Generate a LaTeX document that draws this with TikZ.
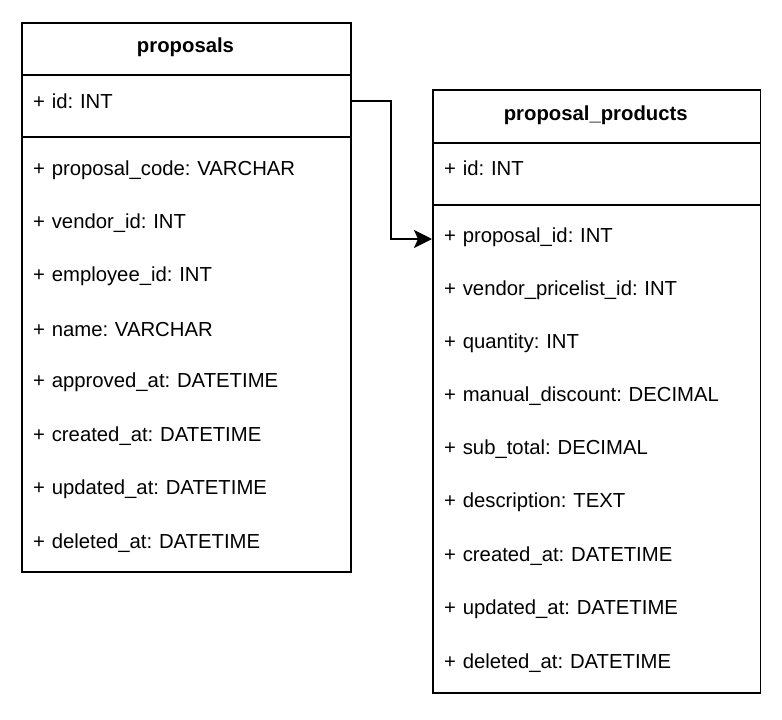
\documentclass[tikz,border=0pt]{standalone}
\usepackage{fontspec}
\setmainfont{Liberation Sans}
\frenchspacing
\usetikzlibrary{arrows.meta}
\tikzset{
  tbl/.style={draw=black, line width=1.9pt, fill=white, inner sep=0pt, anchor=north west},
  hdr/.style={font=\fontsize{20.3}{24}\selectfont\bfseries, text=black},
  lrow/.style={anchor=west, inner xsep=12pt, inner ysep=0pt, text width=305pt, align=left, font=\fontsize{20.3}{24}\selectfont\frenchspacing, text=black},
  rrow/.style={lrow, text width=303.5pt},
  link/.style={draw=black, line width=1.9pt, -{Stealth[length=18pt, width=18pt, inset=4pt]}}
}
\begin{document}
\begin{tikzpicture}[x=1pt, y=-1pt]
\useasboundingbox (0,0) rectangle (782,720);
% left table: proposals
\node[tbl, minimum width=329pt, minimum height=549pt] (lbox) at (21,21.7) {};
\node[tbl, minimum width=329pt, minimum height=52.6pt] (lhead) at (21,21.7) {};
\node[tbl, minimum width=329pt, minimum height=61.7pt] (lidsec) at (21,74.3) {};
\node[hdr] (ltitle) at (185.5,47.5) {proposals};
\node[lrow] (lid) at (21,101) {+ id: INT};
\node[lrow] (l1) at (21,170.5) {+ proposal\_code: VARCHAR};
\node[lrow] (l2) at (21,223.5) {+ vendor\_id: INT};
\node[lrow] (l3) at (21,276.5) {+ employee\_id: INT};
\node[lrow] (l4) at (21,329.5) {+ name: VARCHAR};
\node[lrow] (l5) at (21,382.5) {+ approved\_at: DATETIME};
\node[lrow] (l6) at (21,436) {+ created\_at: DATETIME};
\node[lrow] (l7) at (21,489.5) {+ updated\_at: DATETIME};
\node[lrow] (l8) at (21,543) {+ deleted\_at: DATETIME};
% right table: proposal_products
\node[tbl, minimum width=327.5pt, minimum height=602.4pt] (rbox) at (432,89.3) {};
\node[tbl, minimum width=327.5pt, minimum height=52.7pt] (rhead) at (432,89.3) {};
\node[tbl, minimum width=327.5pt, minimum height=62.3pt] (ridsec) at (432,142) {};
\node[hdr] (rtitle) at (595.75,115) {proposal\_products};
\node[rrow] (rid) at (432,168) {+ id: INT};
\node[rrow] (r1) at (432,237.5) {+ proposal\_id: INT};
\node[rrow] (r2) at (432,290.5) {+ vendor\_pricelist\_id: INT};
\node[rrow] (r3) at (432,343.5) {+ quantity: INT};
\node[rrow] (r4) at (432,396.5) {+ manual\_discount: DECIMAL};
\node[rrow] (r5) at (432,449.5) {+ sub\_total: DECIMAL};
\node[rrow] (r6) at (432,502.5) {+ description: TEXT};
\node[rrow] (r7) at (432,556) {+ created\_at: DATETIME};
\node[rrow] (r8) at (432,609.5) {+ updated\_at: DATETIME};
\node[rrow] (r9) at (432,663) {+ deleted\_at: DATETIME};
% connector
\draw[link] (lid.east) -- ++(40.7,0) |- ([yshift=-1.5pt]r1.west);
\end{tikzpicture}
\end{document}
